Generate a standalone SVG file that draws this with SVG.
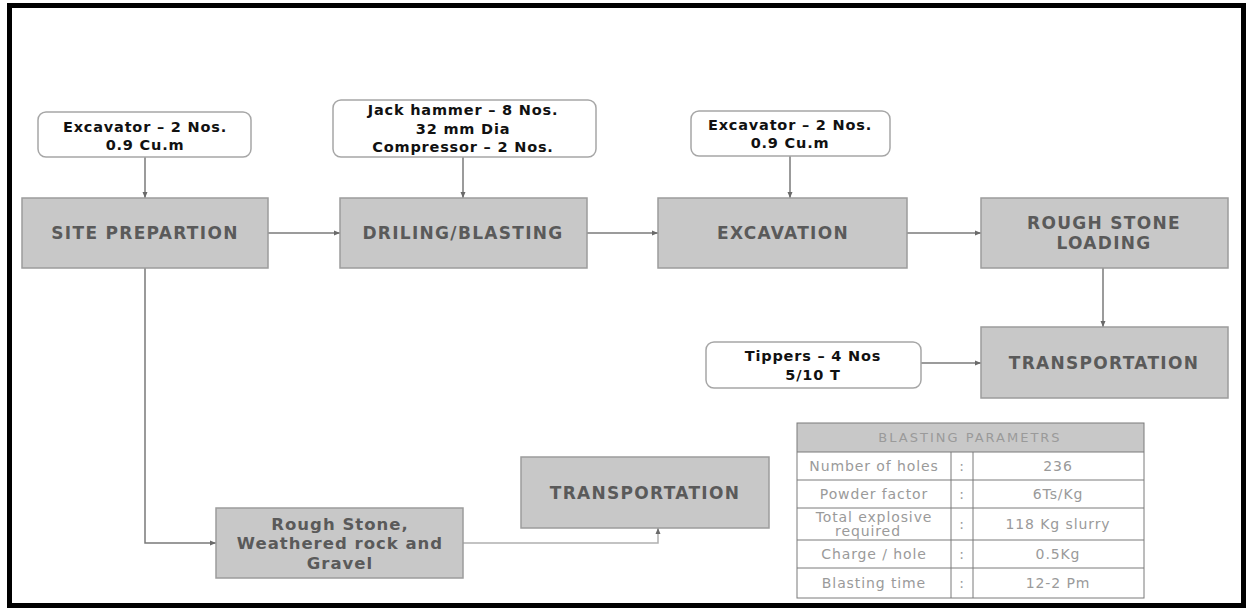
<svg xmlns="http://www.w3.org/2000/svg" width="1253" height="612" viewBox="0 0 1253 612">
<style>
.frame{fill:#ffffff;stroke:#000000;stroke-width:5}
.proc{fill:#c8c8c8;stroke:#9c9c9c;stroke-width:1.5}
.call{fill:#ffffff;stroke:#a6a6a6;stroke-width:1.5}
.pt{font-family:"DejaVu Sans",Verdana,sans-serif;font-weight:bold;font-size:17px;letter-spacing:1.3px;fill:#5a5a5a;text-anchor:middle}
.pt2{font-family:"DejaVu Sans",Verdana,sans-serif;font-weight:bold;font-size:16.5px;letter-spacing:1px;fill:#5a5a5a;text-anchor:middle}
.ct{font-family:"DejaVu Sans",Verdana,sans-serif;font-weight:bold;font-size:14.5px;letter-spacing:0.8px;fill:#111111;text-anchor:middle}
.tt{font-family:"DejaVu Sans",Verdana,sans-serif;font-size:14px;letter-spacing:0.9px;fill:#9a9a9a;text-anchor:middle}
.th{font-family:"DejaVu Sans",Verdana,sans-serif;font-size:13px;letter-spacing:2px;fill:#9a9a9a;text-anchor:middle}
.ln{fill:none;stroke:#7a7a7a;stroke-width:1.5}
.ln2{fill:none;stroke:#b0b0b0;stroke-width:1.5}
.tb{fill:none;stroke:#7a7a7a;stroke-width:1}
</style>
<defs>
<marker id="ah" markerWidth="8" markerHeight="8" refX="7" refY="4" orient="auto" markerUnits="userSpaceOnUse">
<path d="M1,1.5 L7,4 L1,6.5 Z" fill="#6a6a6a"/>
</marker>
</defs>
<rect x="9.5" y="5.5" width="1234" height="600" class="frame"/>

<g id="connectors">
<line class="ln" x1="145" y1="157" x2="145" y2="198" marker-end="url(#ah)"/>
<line class="ln" x1="463" y1="157" x2="463" y2="198" marker-end="url(#ah)"/>
<line class="ln" x1="790" y1="156" x2="790" y2="198" marker-end="url(#ah)"/>
<line class="ln" x1="268" y1="233" x2="340" y2="233" marker-end="url(#ah)"/>
<line class="ln" x1="587" y1="233" x2="658" y2="233" marker-end="url(#ah)"/>
<line class="ln" x1="907" y1="233" x2="981" y2="233" marker-end="url(#ah)"/>
<line class="ln" x1="1103" y1="268" x2="1103" y2="327" marker-end="url(#ah)"/>
<line class="ln" x1="921" y1="363" x2="981" y2="363" marker-end="url(#ah)"/>
<polyline class="ln" points="145,268 145,543 216,543" marker-end="url(#ah)"/>
<polyline class="ln2" points="463,543 658,543 658,528" marker-end="url(#ah)"/>
</g>

<g id="n-exc1">
<rect class="call" x="38" y="112" width="213" height="45" rx="8"/>
<text class="ct" x="145" y="132">Excavator – 2 Nos.</text>
<text class="ct" x="145" y="150">0.9 Cu.m</text>
</g>
<g id="n-jack">
<rect class="call" x="333" y="100" width="263" height="57" rx="8"/>
<text class="ct" x="463" y="115">Jack hammer – 8 Nos.</text>
<text class="ct" x="463" y="134">32 mm Dia</text>
<text class="ct" x="463" y="152">Compressor – 2 Nos.</text>
</g>
<g id="n-exc2">
<rect class="call" x="691" y="111" width="199" height="45" rx="8"/>
<text class="ct" x="790" y="130">Excavator – 2 Nos.</text>
<text class="ct" x="790" y="148">0.9 Cu.m</text>
</g>
<g id="n-tippers">
<rect class="call" x="706" y="342" width="215" height="46" rx="8"/>
<text class="ct" x="813" y="361">Tippers – 4 Nos</text>
<text class="ct" x="813" y="380">5/10 T</text>
</g>

<g id="n-site">
<rect class="proc" x="22" y="198" width="246" height="70"/>
<text class="pt" x="145" y="239">SITE PREPARTION</text>
</g>
<g id="n-drill">
<rect class="proc" x="340" y="198" width="247" height="70"/>
<text class="pt" x="463" y="239">DRILING/BLASTING</text>
</g>
<g id="n-excavation">
<rect class="proc" x="658" y="198" width="249" height="70"/>
<text class="pt" x="783" y="239">EXCAVATION</text>
</g>
<g id="n-loading">
<rect class="proc" x="981" y="198" width="247" height="70"/>
<text class="pt" x="1104" y="229">ROUGH STONE</text>
<text class="pt" x="1104" y="249">LOADING</text>
</g>
<g id="n-transport1">
<rect class="proc" x="981" y="327" width="247" height="71"/>
<text class="pt" x="1104" y="369">TRANSPORTATION</text>
</g>
<g id="n-rough">
<rect class="proc" x="216" y="508" width="247" height="70"/>
<text class="pt2" x="340" y="530">Rough Stone,</text>
<text class="pt2" x="340" y="549">Weathered rock and</text>
<text class="pt2" x="340" y="569">Gravel</text>
</g>
<g id="n-transport2">
<rect class="proc" x="521" y="457" width="248" height="71"/>
<text class="pt" x="645" y="499">TRANSPORTATION</text>
</g>

<g id="table">
<rect x="797" y="423" width="347" height="29" fill="#c8c8c8"/>
<rect class="tb" x="797" y="423" width="347" height="175"/>
<line class="tb" x1="797" y1="452" x2="1144" y2="452"/>
<line class="tb" x1="797" y1="480" x2="1144" y2="480"/>
<line class="tb" x1="797" y1="508" x2="1144" y2="508"/>
<line class="tb" x1="797" y1="540" x2="1144" y2="540"/>
<line class="tb" x1="797" y1="568" x2="1144" y2="568"/>
<line class="tb" x1="951" y1="452" x2="951" y2="598"/>
<line class="tb" x1="973" y1="452" x2="973" y2="598"/>
<text class="th" x="970" y="442">BLASTING PARAMETRS</text>
<text class="tt" x="874" y="471">Number of holes</text>
<text class="tt" x="962" y="471">:</text>
<text class="tt" x="1058" y="471">236</text>
<text class="tt" x="874" y="499">Powder factor</text>
<text class="tt" x="962" y="499">:</text>
<text class="tt" x="1058" y="499">6Ts/Kg</text>
<text class="tt" x="874" y="522">Total explosive</text>
<text class="tt" x="868" y="536">required</text>
<text class="tt" x="962" y="529">:</text>
<text class="tt" x="1058" y="529">118 Kg slurry</text>
<text class="tt" x="874" y="559">Charge / hole</text>
<text class="tt" x="962" y="559">:</text>
<text class="tt" x="1058" y="559">0.5Kg</text>
<text class="tt" x="874" y="588">Blasting time</text>
<text class="tt" x="962" y="588">:</text>
<text class="tt" x="1058" y="588">12-2 Pm</text>
</g>
</svg>
